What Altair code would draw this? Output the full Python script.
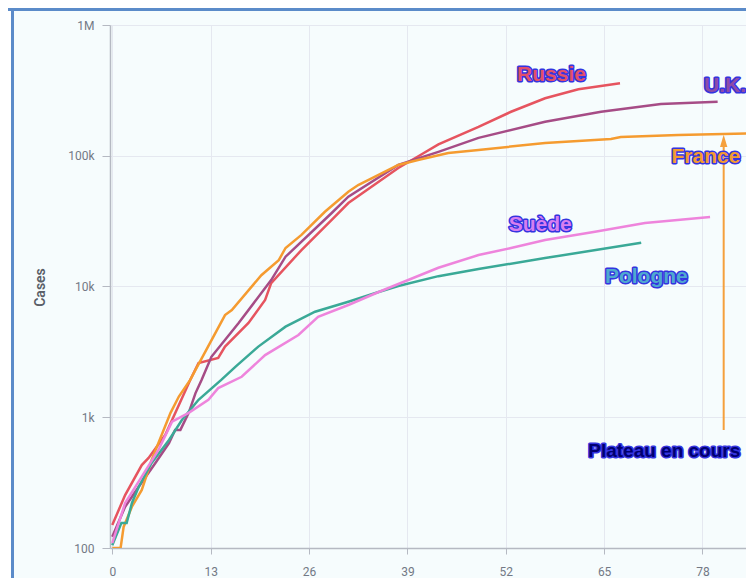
import altair as alt
import pandas as pd

# ---- data ----
ru_days = [0, 1.7, 3.9, 4.8, 7.0, 10.3, 11.4, 14.0, 14.9, 18.0, 20.2, 21.0, 25.0, 29.0, 31.2, 37.8, 40.5, 43.1, 48.4, 52.7, 57.2, 61.6, 67.1]
ru_vals = [150, 254, 431, 488, 731, 1930, 2600, 2840, 3470, 5260, 7880, 10600, 19000, 32300, 43500, 80600, 99500, 122000, 166000, 217000, 275000, 322000, 358000]

uk_days = [0, 1.7, 3.5, 5.7, 7.5, 8.3, 9.0, 10.1, 11.0, 11.8, 13.1, 16.7, 21.0, 22.9, 29.0, 31.2, 37.8, 43.1, 48.4, 57.2, 64.6, 72.5, 80.0]
uk_vals = [122, 207, 294, 447, 635, 800, 800, 1080, 1530, 1930, 2900, 5260, 11200, 16900, 36500, 48600, 85000, 107000, 137000, 182000, 217000, 249000, 259000]

fr_days = [0, 1.1, 1.5, 2.6, 3.9, 5.2, 7.7, 8.8, 10.3, 11.0, 14.9, 15.8, 19.7, 22.0, 22.9, 25.0, 28.1, 31.2, 32.5, 37.8, 40.4, 44.4, 48.4, 57.2, 65.9, 67.2, 74.8, 84.5, 86.0]
fr_vals = [100, 100, 145, 207, 278, 471, 1080, 1440, 1930, 2300, 6050, 6610, 12200, 15900, 19700, 24800, 37300, 53100, 59700, 85000, 92800, 105000, 110700, 125300, 134300, 139000, 144000, 148500, 149000]

pl_days = [0, 1.2, 1.9, 2.6, 3.5, 5.2, 7.5, 9.2, 11.4, 14.4, 16.3, 19.3, 22.9, 26.8, 31.2, 35.2, 37.8, 43.1, 48.4, 57.2, 69.9]
pl_vals = [105, 155, 155, 221, 294, 447, 670, 953, 1360, 1930, 2440, 3470, 4930, 6410, 7650, 9080, 10100, 12000, 13600, 16500, 21600]

se_days = [0, 1.7, 3.9, 6.1, 7.9, 10.1, 12.7, 14.0, 17.1, 20.2, 24.6, 27.2, 31.2, 35.2, 37.8, 43.1, 48.4, 52.7, 57.2, 63.8, 70.4, 79.0]
se_vals = [109, 221, 351, 562, 925, 1080, 1360, 1670, 2040, 2990, 4260, 5870, 7220, 9080, 10450, 13900, 17400, 19700, 22700, 26200, 30600, 34000]

countries = ["Suède", "Pologne", "France", "U.K.", "Russie"]
line_colors = ["#ee84dc", "#3aa997", "#f59b30", "#a64c86", "#e6545f"]

label_texts = ["Russie", "U.K.", "France", "Suède", "Pologne", "Plateau en cours"]
label_days = [53.5, 78.2, 73.9, 52.4, 65.1, 62.9]
label_vals = [414700, 341500, 97800, 29500, 11830, 552]
label_sizes = [21, 21, 21, 21, 21, 19]
label_fills = ["#e2506a", "#8d4ca8", "#f59b30", "#d77ef0", "#4fa9cf", "#000070"]

arrow_day = [80.8]
arrow_from = [800]
arrow_to = [118000]
arrow_tip = [129700]

x_ticks = [0, 13, 26, 39, 52, 65, 78]
y_ticks = [100, 1000, 10000, 100000, 1000000]

# ---- tables ----
rows = []
for name, ds, vs in [("Russie", ru_days, ru_vals), ("U.K.", uk_days, uk_vals),
                     ("France", fr_days, fr_vals), ("Pologne", pl_days, pl_vals),
                     ("Suède", se_days, se_vals)]:
    for d, v in zip(ds, vs):
        rows.append({"country": name, "day": d, "cases": v})
lines_df = pd.DataFrame(rows)

labels_df = pd.DataFrame({"label": label_texts, "day": label_days, "cases": label_vals,
                          "fill": label_fills, "fs": label_sizes})
arrow_df = pd.DataFrame({"day": arrow_day, "y1": arrow_from, "y2": arrow_to, "tip": arrow_tip})

W, H = 636, 523
PX_PER_DAY = 7.567
xscale = alt.Scale(domain=[-0.3, -0.3 + W / PX_PER_DAY], nice=False, zero=False)
yscale = alt.Scale(type="log", domain=[100, 1000000], nice=False)

base = alt.Chart(lines_df)

lines = base.mark_line(strokeWidth=2.5, clip=True).encode(
    x=alt.X("day:Q", scale=xscale,
            axis=alt.Axis(values=x_ticks, title=None, tickSize=6, labelPadding=12,
                          grid=True, labelFontSize=12)),
    y=alt.Y("cases:Q", scale=yscale,
            axis=alt.Axis(values=y_ticks, title="Cases", tickSize=8, labelPadding=8,
                          labelExpr="datum.value >= 1000000 ? '1M' : datum.value >= 1000 ? (datum.value/1000) + 'k' : datum.value",
                          titleX=-70, titleY=262, titleBaseline="middle", titleAlign="center",
                          titleFontSize=14, titleColor="#5a5f68", titleFontWeight=600,
                          grid=True, labelFontSize=12)),
    color=alt.Color("country:N", scale=alt.Scale(domain=countries, range=line_colors), legend=None),
    order=alt.Order("day:Q"),
    detail="country:N",
)

arrow_shaft = alt.Chart(arrow_df).mark_rule(color="#f5a03c", strokeWidth=2).encode(
    x=alt.X("day:Q", scale=xscale), y=alt.Y("y1:Q", scale=yscale), y2="y2:Q")
arrow_head = alt.Chart(arrow_df).mark_point(
    shape="M0,-1L0.6,1L-0.6,1Z", filled=True, color="#f5a03c", size=150, opacity=1
).encode(x=alt.X("day:Q", scale=xscale), y=alt.Y("tip:Q", scale=yscale))

text_outline = alt.Chart(labels_df).mark_text(
    align="left", baseline="middle", font="Liberation Sans", fontWeight="bold",
    stroke="#3434e0", strokeWidth=3, strokeJoin="round", fill="#3434e0"
).encode(x=alt.X("day:Q", scale=xscale), y=alt.Y("cases:Q", scale=yscale), text="label:N",
         size=alt.Size("fs:Q", scale=None))
text_fill = alt.Chart(labels_df).mark_text(
    align="left", baseline="middle", font="Liberation Sans", fontWeight="bold"
).encode(x=alt.X("day:Q", scale=xscale), y=alt.Y("cases:Q", scale=yscale), text="label:N",
         size=alt.Size("fs:Q", scale=None),
         color=alt.Color("fill:N", scale=None))

frame_top = alt.Chart(lines_df).mark_rule(color="#5b8bc9", strokeWidth=2.5).encode(
    x=alt.value(-102), x2=alt.value(W), y=alt.value(-15.5))
frame_left = alt.Chart(lines_df).mark_rule(color="#5b8bc9", strokeWidth=2.5).encode(
    x=alt.value(-97.5), y=alt.value(-16), y2=alt.value(H + 60))
white_strip = alt.Chart(lines_df).mark_rule(color="#ffffff", strokeWidth=3).encode(
    x=alt.value(-100.5), y=alt.value(-20), y2=alt.value(H + 60))

chart = alt.layer(lines, arrow_shaft, arrow_head, text_outline, text_fill,
                  white_strip, frame_top, frame_left).properties(
    width=W, height=H,
    autosize=alt.AutoSizeParams(type="none"),
    padding={"left": 102, "top": 17, "right": 0, "bottom": 30},
    background="#f6fcfd",
).configure_view(stroke=None).configure_axis(
    labelColor="#737985", labelFont="Roboto", titleFont="Roboto",
    domainColor="#b5b9c2", tickColor="#b5b9c2", gridColor="#e5e8f0", domainWidth=1.5,
)

chart.save("out.html", embed_options={"renderer": "svg", "actions": False})
